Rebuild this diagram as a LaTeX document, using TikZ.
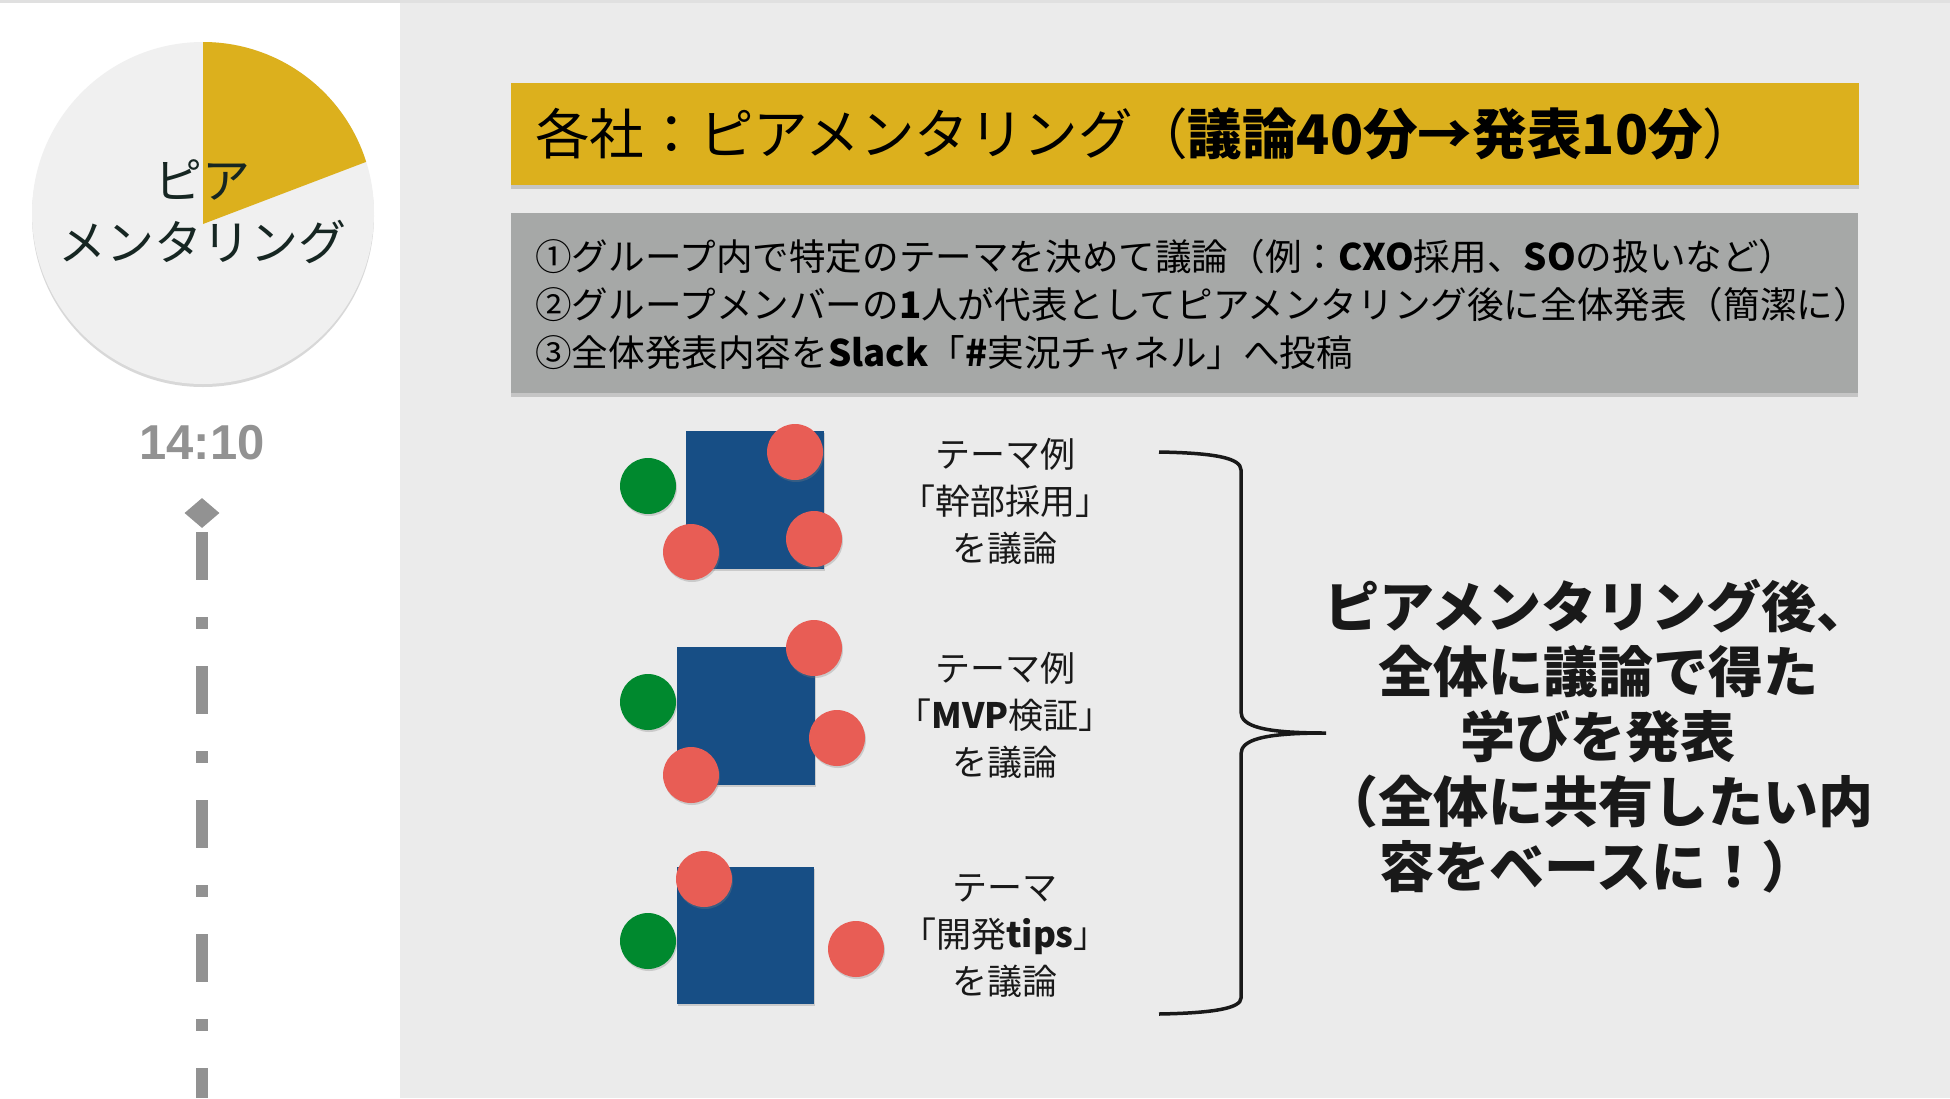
\documentclass[tikz,border=0pt]{standalone}
\usepackage{fontspec}
\setmainfont{Noto Sans CJK JP}
\newfontfamily\lat{Liberation Sans}
\usetikzlibrary{shadows,shapes.geometric}
\definecolor{bgright}{RGB}{235,235,235}
\definecolor{gold}{RGB}{220,176,29}
\definecolor{boxgray}{RGB}{166,168,167}
\definecolor{sqblue}{RGB}{23,78,133}
\definecolor{dotgreen}{RGB}{0,137,46}
\definecolor{dotred}{RGB}{232,93,85}
\definecolor{timegray}{RGB}{146,146,146}
\definecolor{piegray}{RGB}{240,240,240}
\definecolor{pietxt}{RGB}{22,38,34}
\tikzset{
  sq/.style={fill=sqblue, minimum size=138pt, inner sep=0pt, drop shadow={shadow xshift=1pt,shadow yshift=-2pt,opacity=0.3}},
  gdot/.style={circle, fill=dotgreen, minimum size=56pt, inner sep=0pt, drop shadow={shadow xshift=1pt,shadow yshift=-2pt,opacity=0.3}},
  rdot/.style={circle, fill=dotred, minimum size=56pt, inner sep=0pt, drop shadow={shadow xshift=1pt,shadow yshift=-2pt,opacity=0.3}},
  lbl/.style={align=center, font=\fontsize{35}{47}\selectfont, text=black!90},
  boxshadow/.style={drop shadow={shadow xshift=0pt,shadow yshift=-4pt,opacity=0.35}}
}
\begin{document}
\begin{tikzpicture}[x=1pt,y=-1pt]
\useasboundingbox (0,0) rectangle (1950,1098);
\fill[white] (0,0) rectangle (400,1098);
\fill[bgright] (400,0) rectangle (1950,1098);
\fill[black!12] (0,0) rectangle (1950,3);

% pie
\fill[piegray, drop shadow={shadow xshift=0pt,shadow yshift=-3pt,opacity=0.3}] (203,213) circle[radius=171pt];
\fill[gold] (203,224) -- (203,42) arc[start angle=90, end angle=17.4, radius=171pt] -- cycle;
\node[align=center, font=\fontsize{48}{62}\selectfont, text=pietxt] (pietext) at (202,212) {ピア\\メンタリング};

% time
\node[font=\lat\bfseries\fontsize{49}{49}\selectfont, text=timegray] (time) at (202,443) {14:10};
\node[diamond, fill=timegray, minimum width=35pt, minimum height=30pt, inner sep=0pt] (tip) at (202,513) {};
\coordinate (tlend) at (202,1098);
\draw[timegray, line width=12pt, dash pattern=on 48pt off 37pt on 12pt off 37pt, shorten <=4pt] (tip.south) -- (tlend);

% title box
\node[fill=gold, minimum width=1348pt, minimum height=102pt, anchor=north west, inner sep=0pt, boxshadow] (titlebox) at (511,83) {};
\node[anchor=west, font=\fontsize{54.6}{60}\selectfont, inner sep=0pt] (titletext) at ([xshift=24pt]titlebox.west) {各社：ピアメンタリング（\textbf{議論40分→発表10分}）};

% rules box
\node[fill=boxgray, minimum width=1347pt, minimum height=180pt, anchor=north west, inner sep=0pt, boxshadow] (rulebox) at (511,213) {};
\node[anchor=west, align=left, font=\fontsize{36.6}{48}\selectfont, inner sep=0pt] (rules) at (535,304) {①グループ内で特定のテーマを決めて議論（例：\textbf{CXO}採用、\textbf{SO}の扱いなど）\\②グループメンバーの\textbf{1}人が代表としてピアメンタリング後に全体発表（簡潔に）\\③全体発表内容を\textbf{Slack}「\textbf{\#}実況チャネル」へ投稿};

% group 1
\node[sq] (sqA) at (754.5,500) {};
\node[gdot] (gA) at (648,486) {};
\node[rdot] (rA1) at (795,452) {};
\node[rdot] (rA2) at (691,552) {};
\node[rdot] (rA3) at (814,539) {};
\node[lbl] (lblA) at (1005,501) {テーマ例\\「幹部採用」\\を議論};

% group 2
\node[sq] (sqB) at (746,716) {};
\node[gdot] (gB) at (648,702) {};
\node[rdot] (rB1) at (814,648) {};
\node[rdot] (rB2) at (837,738) {};
\node[rdot] (rB3) at (691,775) {};
\node[lbl] (lblB) at (1005,715) {テーマ例\\「\textbf{MVP}検証」\\を議論};

% group 3
\node[sq, minimum size=137pt] (sqC) at (745.5,935.5) {};
\node[gdot] (gC) at (648,941) {};
\node[rdot] (rC1) at (704,879) {};
\node[rdot] (rC2) at (856,949) {};
\node[lbl] (lblC) at (1005,936) {テーマ\\「開発\textbf{tips}」\\を議論};

% brace
\coordinate (brtop) at (1159,452);
\coordinate (brtip) at (1326,733);
\coordinate (brbot) at (1159,1014);
\draw[line width=3.5pt, black!90] (brtop) .. controls (1215,453) and (1241,458) .. (1241,470) -- (1241,712) .. controls (1241,726) and (1262,733) .. (brtip) .. controls (1262,733) and (1241,740) .. (1241,754) -- (1241,998) .. controls (1241,1008) and (1215,1013) .. (brbot);

\node[align=center, font=\bfseries\fontsize{55}{65}\selectfont, text=black!90] (summary) at (1598,736) {ピアメンタリング後、\\全体に議論で得た\\学びを発表\\（全体に共有したい内\\容をベースに！）};
\end{tikzpicture}
\end{document}
